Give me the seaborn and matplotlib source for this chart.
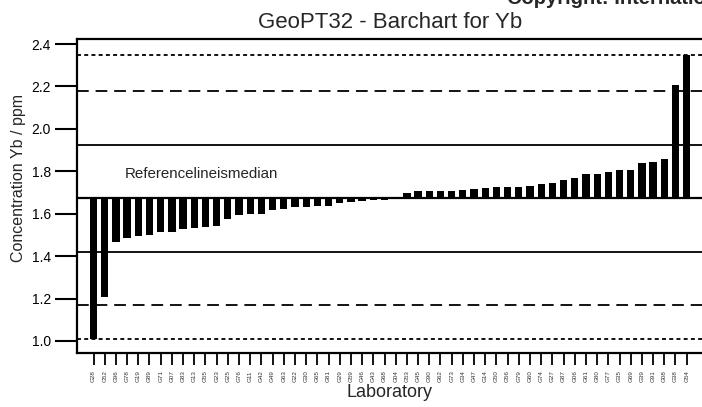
import numpy as np
import pandas as pd
import matplotlib
matplotlib.use("Agg")
import matplotlib.pyplot as plt
import seaborn as sns

labs = ["G28", "G52", "G96", "G78", "G19", "G89", "G71", "G07", "G83", "G13",
        "G55", "G23", "G25", "G76", "G11", "G42", "G49", "G63", "G22", "G30",
        "G65", "G81", "G29", "G59", "G46", "G43", "G68", "G04", "G53", "G45",
        "G90", "G62", "G73", "G34", "G47", "G14", "G50", "G56", "G79", "G60",
        "G74", "G27", "G87", "G06", "G61", "G80", "G77", "G35", "G69", "G39",
        "G91", "G08", "G38", "G54"]
values = [1.010, 1.209, 1.468, 1.484, 1.495, 1.498, 1.512, 1.515, 1.526, 1.535,
          1.537, 1.543, 1.575, 1.594, 1.597, 1.598, 1.616, 1.624, 1.630, 1.630,
          1.635, 1.636, 1.649, 1.657, 1.660, 1.665, 1.667, 1.678, 1.696, 1.705,
          1.706, 1.707, 1.708, 1.713, 1.717, 1.722, 1.724, 1.725, 1.726, 1.732,
          1.738, 1.745, 1.760, 1.767, 1.786, 1.787, 1.797, 1.805, 1.806, 1.838,
          1.845, 1.857, 2.207, 2.348]
ref_value = 1.673
target_sd = 0.252
yticks = [1.0, 1.2, 1.4, 1.6, 1.8, 2.0, 2.2, 2.4]

sns.set_theme(style="white")
plt.rcParams["font.family"] = ["Liberation Sans", "DejaVu Sans"]

W, H = 702, 407
fig = plt.figure(figsize=(W / 100, H / 100), dpi=100)
left_px, right_px, top_px, bot_px = 77.3, 702.0, 39.0, 353.0
ax = fig.add_axes([left_px / W, 1 - bot_px / H, (right_px - left_px) / W, (bot_px - top_px) / H])

df = pd.DataFrame({"lab": labs, "dev": np.array(values) - ref_value})
sns.barplot(data=df, x="lab", y="dev", color="black", saturation=1, width=0.65,
            bottom=ref_value, linewidth=0, edgecolor="none", ax=ax, zorder=3)

lw = 1.3
ax.axhline(ref_value, color="black", lw=1.6, zorder=4)
for s in (1, -1):
    ax.axhline(ref_value + s * target_sd, color="black", lw=lw, zorder=2)
    ax.axhline(ref_value + s * 2 * target_sd, color="black", lw=lw, zorder=2,
               linestyle=(0, (6.5, 3.8)))
ax.axhline(max(values), color="black", lw=lw, zorder=2, linestyle=(0, (2.2, 1.8)))
ax.axhline(min(values), color="black", lw=lw, zorder=2, linestyle=(0, (2.2, 1.8)))

ax.set_ylim(0.9434, 2.4236)
ax.set_xlim(-1.45, 54.37)
ax.set_yticks(yticks)
ax.set_yticklabels([f"{t:.1f}" for t in yticks], fontsize=10)

for sp in ("top", "left", "bottom"):
    ax.spines[sp].set_visible(True)
    ax.spines[sp].set_color("black")
    ax.spines[sp].set_linewidth(1.6)
ax.spines["right"].set_visible(False)

ax.tick_params(axis="y", direction="out", length=16, width=1.5, pad=3, colors="black",
               left=True, labelsize=10)
ax.tick_params(axis="x", direction="out", length=8.6, width=1.3, pad=4, colors="black",
               bottom=True, labelsize=4.5, labelrotation=90)
for t in ax.get_xticklabels():
    t.set_color("#333333")

ax.set_xlabel("Laboratory", fontsize=13, va="center")
ax.xaxis.set_label_coords(0.5, (bot_px - 392.5) / (bot_px - top_px))
ax.set_ylabel("Concentration Yb / ppm", fontsize=11.5, va="center")
ax.yaxis.set_label_coords((19 - left_px) / (right_px - left_px), (bot_px - 178.5) / (bot_px - top_px))

ax.text(0.5, (bot_px - 28) / (bot_px - top_px), "GeoPT32 - Barchart for Yb",
        transform=ax.transAxes, ha="center", va="baseline", fontsize=16)
ax.text((125 - left_px) / (right_px - left_px), (bot_px - 174) / (bot_px - top_px),
        "Referencelineismedian", transform=ax.transAxes, ha="left", va="center",
        fontsize=10.9)
fig.text(507 / W, 1 - 4.5 / H, "Copyright: International", fontweight="bold",
         fontsize=14.5, ha="left", va="baseline")

fig.savefig("out.png", dpi=100)
